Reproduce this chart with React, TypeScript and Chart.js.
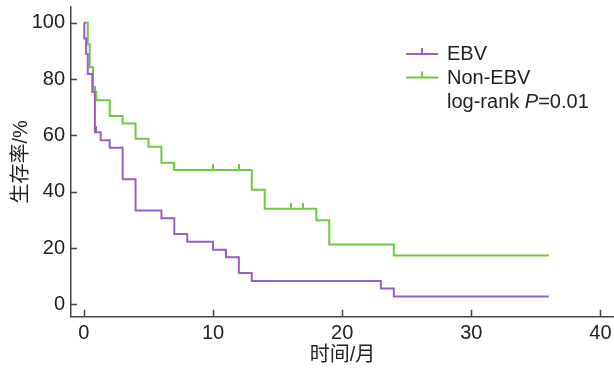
import React, { useEffect, useRef } from 'react';
import { Chart, registerables } from 'chart.js';

Chart.register(...registerables);

// ---- data ----
const seriesNames = ['EBV', 'Non-EBV'];
const logRankPrefix = 'log-rank ';
const logRankItalic = 'P';
const logRankSuffix = '=0.01';

const ebvTime = [0, 0.03, 0.17, 0.3, 0.65, 0.85, 1.3, 2, 3, 4, 6, 7, 8, 10, 11, 12, 13, 23, 24, 36];
const ebvSurv = [100, 94.4, 88.9, 81.8, 75.4, 61.1, 58.3, 55.6, 44.4, 33.3, 30.6, 25.0, 22.2, 19.4, 16.7, 11.1, 8.3, 5.6, 2.8, 2.8];
const ebvCensorTime = [0.95];
const ebvCensorSurv = [61.1];

const nonTime = [0, 0.3, 0.45, 0.7, 0.95, 2, 3, 4, 5, 6, 7, 13, 14, 18, 19, 24, 36];
const nonSurv = [100, 92.4, 84.2, 75.5, 72.5, 66.9, 64.2, 58.8, 56.0, 50.3, 47.7, 40.7, 33.9, 29.9, 21.2, 17.3, 17.3];
const nonCensorTime = [0.85, 7, 10, 12, 16, 17];
const nonCensorSurv = [75.5, 47.7, 47.7, 47.7, 33.9, 33.9];

const xTicks = [0, 10, 20, 30, 40];
const yTicks = [0, 20, 40, 60, 80, 100];
const xTitle = '时间/月';
const yTitle = '生存率/%';

// ---- styles ----
const PURPLE = '#9c5bc8';
const GREEN = '#6bcb3b';
const AXIS = '#444444';
const TEXT = '#222222';
const FONT_FAMILY = "'Liberation Sans', Arial, 'Noto Sans CJK SC', sans-serif";

function makeTick(color: string): HTMLCanvasElement {
  const c = document.createElement('canvas');
  c.width = 2;
  c.height = 12;
  const g = c.getContext('2d')!;
  g.fillStyle = color;
  g.fillRect(0, 0, 2, 6);
  return c;
}

const pts = (xs: number[], ys: number[]) => xs.map((x, i) => ({ x, y: ys[i] }));

const innerTicksPlugin = {
  id: 'innerTicks',
  afterDraw(chart: any) {
    const { ctx, chartArea } = chart;
    const xs = chart.scales.x;
    const ys = chart.scales.y;
    ctx.save();
    ctx.strokeStyle = AXIS;
    ctx.lineWidth = 1.5;
    ctx.beginPath();
    xTicks.forEach((v) => {
      const px = Math.round(xs.getPixelForValue(v)) + 0.5;
      ctx.moveTo(px, chartArea.bottom);
      ctx.lineTo(px, chartArea.bottom - 7);
    });
    yTicks.forEach((v) => {
      const py = Math.round(ys.getPixelForValue(v)) + 0.5;
      ctx.moveTo(chartArea.left, py);
      ctx.lineTo(chartArea.left + 6, py);
    });
    ctx.stroke();
    ctx.restore();
  },
};

const legendPlugin = {
  id: 'kmLegend',
  afterDraw(chart: any) {
    const { ctx } = chart;
    ctx.save();
    const colors = [PURPLE, GREEN];
    const lineYs = [54, 77.5];
    const baselines = [60, 83.5];
    seriesNames.forEach((name, i) => {
      ctx.strokeStyle = colors[i];
      ctx.lineWidth = 2;
      ctx.beginPath();
      ctx.moveTo(406, lineYs[i]);
      ctx.lineTo(438, lineYs[i]);
      ctx.stroke();
      ctx.fillStyle = colors[i];
      ctx.fillRect(421, lineYs[i] - 6, 2, 6);
      ctx.fillStyle = TEXT;
      ctx.font = `20px ${FONT_FAMILY}`;
      ctx.textBaseline = 'alphabetic';
      ctx.textAlign = 'left';
      ctx.fillText(name, 447, baselines[i]);
    });
    let x = 447;
    const by = 107.5;
    ctx.fillStyle = TEXT;
    ctx.font = `20px ${FONT_FAMILY}`;
    ctx.fillText(logRankPrefix, x, by);
    x += ctx.measureText(logRankPrefix).width;
    ctx.font = `italic 20px ${FONT_FAMILY}`;
    ctx.fillText(logRankItalic, x, by);
    x += ctx.measureText(logRankItalic).width;
    ctx.font = `20px ${FONT_FAMILY}`;
    ctx.fillText(logRankSuffix, x, by);
    ctx.restore();
  },
};

export default function App() {
  const ref = useRef<HTMLCanvasElement | null>(null);

  useEffect(() => {
    if (!ref.current) return;
    const purpleTick = makeTick(PURPLE);
    const greenTick = makeTick(GREEN);
    const tickFont = { family: FONT_FAMILY, size: 20 };
    const chart = new Chart(ref.current, {
      type: 'line',
      data: {
        datasets: [
          {
            label: seriesNames[0],
            data: pts(ebvTime, ebvSurv),
            borderColor: PURPLE,
            borderWidth: 2,
            stepped: true,
            pointRadius: 0,
            fill: false,
          },
          {
            label: seriesNames[1],
            data: pts(nonTime, nonSurv),
            borderColor: GREEN,
            borderWidth: 2,
            stepped: true,
            pointRadius: 0,
            fill: false,
          },
          {
            label: seriesNames[0] + ' censored',
            data: pts(ebvCensorTime, ebvCensorSurv),
            showLine: false,
            pointStyle: purpleTick as any,
            pointRadius: 6,
          },
          {
            label: seriesNames[1] + ' censored',
            data: pts(nonCensorTime, nonCensorSurv),
            showLine: false,
            pointStyle: greenTick as any,
            pointRadius: 6,
          },
        ],
      },
      options: {
        animation: false,
        responsive: false,
        devicePixelRatio: 1,
        layout: { autoPadding: false, padding: { top: 7, right: 0, left: 0, bottom: 0 } },
        plugins: { legend: { display: false }, tooltip: { enabled: false } },
        events: [],
        scales: {
          x: {
            type: 'linear',
            min: -1.0,
            max: 41.05,
            afterBuildTicks: (s: any) => {
              s.ticks = xTicks.map((v) => ({ value: v }));
            },
            afterFit: (s: any) => {
              s.height = 55.3;
              s.paddingLeft = 0;
              s.paddingRight = 0;
            },
            grid: { display: true, drawOnChartArea: false, drawTicks: false },
            border: { display: true, color: AXIS, width: 1.5 },
            ticks: { font: tickFont, color: TEXT, padding: 5, maxRotation: 0, autoSkip: false },
            title: {
              display: true,
              text: xTitle,
              font: { family: FONT_FAMILY, size: 20 },
              color: TEXT,
              padding: { top: 0, bottom: 5 },
            },
          },
          y: {
            type: 'linear',
            min: -4.4,
            max: 105.6,
            afterBuildTicks: (s: any) => {
              s.ticks = yTicks.map((v) => ({ value: v }));
            },
            afterFit: (s: any) => {
              s.width = 71;
              s.paddingTop = 0;
              s.paddingBottom = 0;
            },
            grid: { display: true, drawOnChartArea: false, drawTicks: false },
            border: { display: true, color: AXIS, width: 1.5 },
            ticks: { font: tickFont, color: TEXT, padding: 6 },
            title: {
              display: true,
              text: yTitle,
              font: { family: FONT_FAMILY, size: 20 },
              color: TEXT,
              padding: { top: 9, bottom: 0 },
            },
          },
        },
      },
      plugins: [innerTicksPlugin, legendPlugin],
    } as any);
    return () => chart.destroy();
  }, []);

  return (
    <div style={{ position: 'fixed', left: 0, top: 0, width: 614, height: 372, background: '#fff' }}>
      <canvas ref={ref} width={614} height={372} style={{ width: 614, height: 372, display: 'block' }} />
    </div>
  );
}
